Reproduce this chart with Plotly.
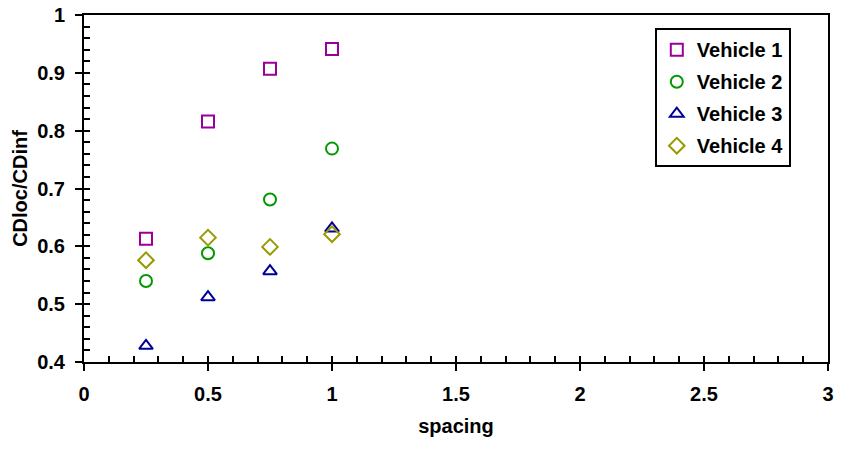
import plotly.graph_objects as go

spacing = [0.25, 0.5, 0.75, 1.0]
vehicle1 = [0.613, 0.816, 0.907, 0.941]
vehicle2 = [0.540, 0.588, 0.681, 0.769]
vehicle3 = [0.428, 0.512, 0.557, 0.631]
vehicle4 = [0.576, 0.615, 0.599, 0.621]

series = [
    ("Vehicle 1", vehicle1, "square-open", "#990099"),
    ("Vehicle 2", vehicle2, "circle-open", "#009900"),
    ("Vehicle 3", vehicle3, "triangle-up-open", "#000099"),
    ("Vehicle 4", vehicle4, "diamond-open", "#999900"),
]

fig = go.Figure()
for name, ys, sym, col in series:
    fig.add_trace(go.Scatter(
        x=spacing, y=ys, mode="markers", name=name, legendgroup=name,
        marker=dict(symbol=sym, size=12, color=col, line=dict(color=col, width=2)),
    ))
# overlay axes carrying the inside tick marks
fig.add_trace(go.Scatter(x=[None], y=[None], xaxis="x2", yaxis="y2",
                         showlegend=False, hoverinfo="skip", mode="markers"))

font = "Liberation Sans, Arial, sans-serif"
bold20 = dict(size=20, family=font, weight="bold", color="black")
fig.update_layout(
    width=841, height=449,
    margin=dict(l=84, r=13, t=15, b=87, autoexpand=False),
    paper_bgcolor="white", plot_bgcolor="white",
    font=dict(family=font, color="black"),
    showlegend=True,
    legend=dict(
        x=0.950, y=0.962, xanchor="right", yanchor="top",
        bordercolor="black", borderwidth=2, bgcolor="white",
        font=bold20, tracegroupgap=3,
        itemsizing="constant",
    ),
    xaxis=dict(
        range=[0, 3], dtick=0.5, tick0=0, automargin=False,
        showline=True, linecolor="black", linewidth=2, mirror=True,
        showgrid=False, zeroline=False,
        ticks="outside", ticklen=7, tickwidth=2, tickcolor="black",
        tickfont=bold20, ticklabelstandoff=6,
        title=dict(text="spacing", font=bold20, standoff=15),
    ),
    yaxis=dict(
        range=[0.4, 1.0], dtick=0.1, tick0=0.4, automargin=False,
        showline=True, linecolor="black", linewidth=2, mirror=True,
        showgrid=False, zeroline=False,
        ticks="outside", ticklen=7, tickwidth=2, tickcolor="black",
        tickfont=bold20, tickformat=".1~f", ticklabelstandoff=6,
        title=dict(text="CDloc/CDinf", font=bold20, standoff=4),
    ),
    xaxis2=dict(
        range=[0, 3], overlaying="x", anchor="y", side="bottom", automargin=False,
        dtick=0.1, tick0=0, ticks="inside", ticklen=6, tickwidth=2, tickcolor="black",
        showticklabels=False, showgrid=False, zeroline=False, showline=False,
    ),
    yaxis2=dict(
        range=[0.4, 1.0], overlaying="y", anchor="x", side="left", automargin=False,
        dtick=0.02, tick0=0.4, ticks="inside", ticklen=6, tickwidth=2, tickcolor="black",
        showticklabels=False, showgrid=False, zeroline=False, showline=False,
    ),
)

fig.write_html("out.html", config={"displayModeBar": False},
               post_script="document.body.style.margin='0';")
